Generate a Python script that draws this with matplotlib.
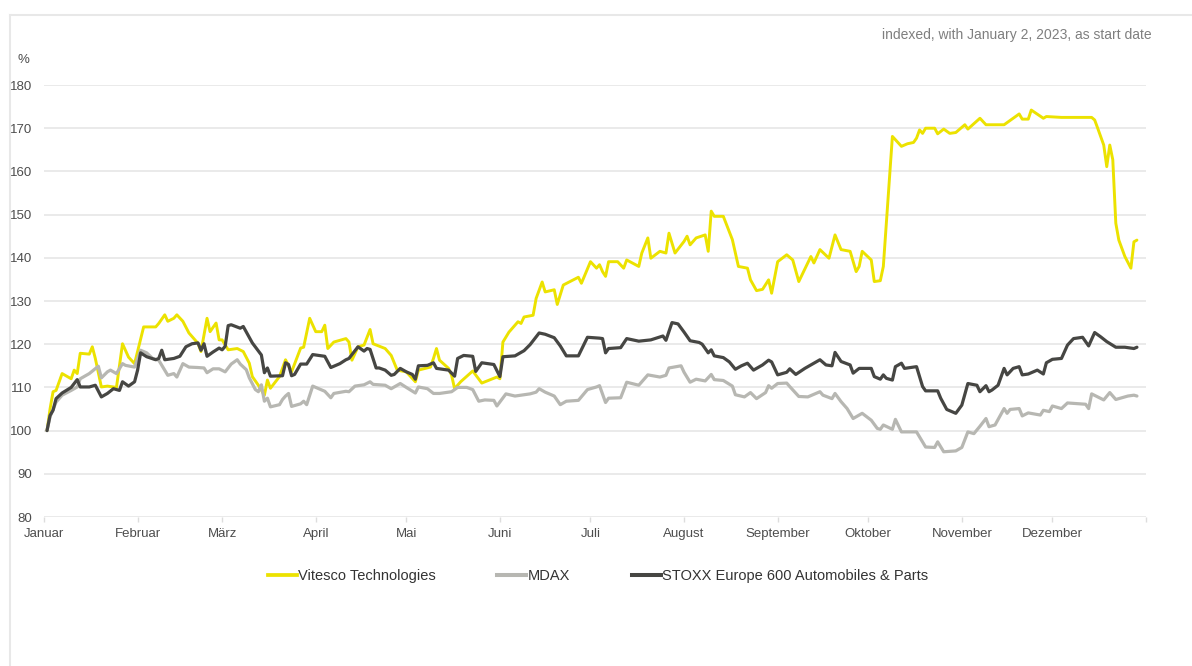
import matplotlib
matplotlib.use("Agg")
import matplotlib.pyplot as plt
import matplotlib.dates as mdates
import pandas as pd
from matplotlib.lines import Line2D

plt.rcParams['font.family'] = ['Liberation Sans', 'DejaVu Sans']

YEAR = "2023-"

month_labels = ["Januar", "Februar", "März", "April", "Mai", "Juni", "Juli",
                "August", "September", "Oktober", "November", "Dezember"]
y_ticks = [80, 90, 100, 110, 120, 130, 140, 150, 160, 170, 180]

series_names = ["Vitesco Technologies", "MDAX", "STOXX Europe 600 Automobiles & Parts"]

vitesco_dates = [
    "01-02", "01-03", "01-04", "01-05", "01-07", "01-10", "01-11", "01-12", "01-13", "01-16",
    "01-17", "01-18", "01-20", "01-22", "01-25", "01-27", "01-29", "01-31", "02-03", "02-07",
    "02-08", "02-10", "02-11", "02-13", "02-14", "02-16", "02-18", "02-21", "02-22", "02-24",
    "02-25", "02-27", "02-28", "03-01", "03-03", "03-06", "03-08", "03-10", "03-11", "03-13",
    "03-15", "03-16", "03-17", "03-20", "03-22", "03-24", "03-27", "03-28", "03-30", "04-01",
    "04-03", "04-04", "04-05", "04-07", "04-11", "04-12", "04-13", "04-15", "04-17", "04-19",
    "04-20", "04-24", "04-26", "04-28", "05-01", "05-04", "05-05", "05-09", "05-10", "05-11",
    "05-12", "05-15", "05-16", "05-17", "05-19", "05-23", "05-26", "05-31", "06-01", "06-02",
    "06-04", "06-07", "06-08", "06-09", "06-12", "06-13", "06-15", "06-16", "06-19", "06-20",
    "06-22", "06-27", "06-28", "07-01", "07-03", "07-04", "07-05", "07-06", "07-07", "07-10",
    "07-12", "07-13", "07-17", "07-18", "07-20", "07-21", "07-24", "07-26", "07-27", "07-29",
    "08-01", "08-02", "08-03", "08-05", "08-08", "08-09", "08-10", "08-11", "08-14", "08-17",
    "08-19", "08-22", "08-23", "08-25", "08-27", "08-29", "08-30", "09-01", "09-04", "09-06",
    "09-08", "09-12", "09-13", "09-15", "09-18", "09-20", "09-22", "09-25", "09-27", "09-28",
    "09-29", "10-02", "10-03", "10-05", "10-06", "10-09", "10-12", "10-14", "10-16", "10-17",
    "10-18", "10-19", "10-20", "10-23", "10-24", "10-26", "10-28", "10-30", "11-02", "11-03",
    "11-07", "11-09", "11-15", "11-16", "11-18", "11-20", "11-21", "11-23", "11-24", "11-28",
    "11-29", "12-04", "12-14", "12-15", "12-16", "12-18", "12-19", "12-20", "12-21", "12-22",
    "12-23", "12-25", "12-27", "12-28", "12-29",
]
vitesco_values = [
    100, 105, 109, 109.3, 113.2, 112, 114, 113.2, 117.9, 117.7,
    119.4, 116.7, 110.1, 110.3, 110, 120.1, 117, 115.5, 124, 124,
    124.8, 126.8, 125.3, 126, 126.8, 125.3, 122.6, 120.2, 118.3, 126,
    122.9, 124.9, 121, 121, 118.7, 119, 118.3, 115.6, 112.5, 110.5,
    108.2, 111.7, 109.8, 112.5, 116.4, 113.6, 119.1, 119.3, 126, 122.9,
    122.9, 124.4, 119, 120.5, 121.3, 120.5, 116.3, 119.4, 119.8, 123.4,
    120.1, 119, 117.4, 114, 113.6, 111.3, 114, 114.7, 116.7, 119,
    116.3, 114.4, 112.8, 109.7, 111.3, 113.8, 111, 112.4, 112, 120.5,
    122.8, 125.2, 124.8, 126.3, 126.7, 130.6, 134.4, 132.1, 132.6, 129.2,
    133.7, 135.5, 134.1, 139.1, 137.6, 138.4, 136.8, 135.7, 139.1, 139.1,
    137.6, 139.5, 138, 141.1, 144.6, 139.9, 141.5, 141.1, 145.7, 141.1,
    143.8, 145, 143, 144.6, 145.3, 141.5, 150.8, 149.6, 149.6, 144.2,
    138, 137.6, 134.9, 132.4, 132.7, 134.9, 131.8, 139.1, 140.7, 139.5,
    134.5, 140.3, 138.8, 141.9, 139.9, 145.3, 141.9, 141.5, 136.8, 138,
    141.5, 139.5, 134.5, 134.7, 138, 168.1, 165.8, 166.4, 166.7, 167.7,
    169.6, 168.8, 170, 170, 168.7, 169.8, 168.8, 169, 170.8, 169.8,
    172.3, 170.8, 170.8, 171.3, 172.3, 173.3, 172.1, 172.1, 174.2, 172.3,
    172.7, 172.5, 172.5, 171.9, 170, 166.1, 161.1, 166.1, 162.7, 148,
    144.1, 140.3, 137.6, 143.7, 144.1,
]

mdax_dates = [
    "01-02", "01-03", "01-05", "01-07", "01-10", "01-12", "01-13", "01-16", "01-19", "01-20",
    "01-22", "01-23", "01-25", "01-27", "01-28", "01-31", "02-02", "02-04", "02-06", "02-08",
    "02-11", "02-13", "02-14", "02-16", "02-18", "02-21", "02-23", "02-24", "02-26", "02-28",
    "03-02", "03-04", "03-06", "03-07", "03-09", "03-10", "03-12", "03-13", "03-14", "03-15",
    "03-16", "03-17", "03-20", "03-21", "03-22", "03-23", "03-24", "03-27", "03-28", "03-29",
    "03-31", "04-04", "04-06", "04-07", "04-11", "04-12", "04-14", "04-17", "04-19", "04-20",
    "04-24", "04-26", "04-29", "05-01", "05-04", "05-05", "05-08", "05-10", "05-12", "05-16",
    "05-18", "05-21", "05-23", "05-25", "05-27", "05-30", "05-31", "06-03", "06-06", "06-11",
    "06-13", "06-14", "06-16", "06-19", "06-21", "06-23", "06-27", "06-30", "07-03", "07-04",
    "07-06", "07-07", "07-11", "07-13", "07-17", "07-20", "07-24", "07-26", "07-27", "07-31",
    "08-01", "08-03", "08-05", "08-08", "08-10", "08-11", "08-14", "08-17", "08-18", "08-21",
    "08-23", "08-25", "08-28", "08-29", "08-30", "09-01", "09-04", "09-05", "09-08", "09-11",
    "09-15", "09-16", "09-19", "09-20", "09-22", "09-24", "09-26", "09-29", "10-02", "10-04",
    "10-05", "10-06", "10-09", "10-10", "10-12", "10-17", "10-20", "10-23", "10-24", "10-26",
    "10-30", "11-01", "11-03", "11-05", "11-07", "11-09", "11-10", "11-12", "11-15", "11-16",
    "11-17", "11-20", "11-21", "11-23", "11-27", "11-28", "11-30", "12-01", "12-04", "12-06",
    "12-12", "12-13", "12-14", "12-18", "12-20", "12-22", "12-26", "12-28", "12-29",
]
mdax_values = [
    100, 103.2, 106.6, 108.2, 109.3, 110.1, 112, 113.2, 114.9, 112.2,
    113.6, 114, 113.2, 115.5, 115.1, 114.7, 118.6, 118, 116.7, 116.3,
    112.8, 113.2, 112.4, 115.5, 114.7, 114.6, 114.5, 113.4, 114.3, 114.3,
    113.6, 115.4, 116.4, 115.4, 114.1, 112.2, 109.5, 109.0, 110.6, 106.8,
    107.5, 105.5, 106, 107.2, 108, 108.6, 105.6, 106.2, 106.8, 106,
    110.3, 109.1, 107.6, 108.6, 109.1, 109, 110.3, 110.6, 111.3, 110.7,
    110.5, 109.7, 110.9, 110, 108.7, 110.1, 109.7, 108.6, 108.6, 109,
    110, 110, 109.5, 106.8, 107.1, 107, 105.7, 108.5, 108, 108.5,
    108.9, 109.7, 108.9, 108, 106, 106.8, 107, 109.5, 110.1, 110.4,
    106.5, 107.5, 107.6, 111.2, 110.5, 112.9, 112.4, 112.8, 114.5, 115,
    113.5, 111.2, 111.9, 111.5, 113, 111.8, 111.6, 110.3, 108.3, 107.8,
    108.8, 107.4, 108.8, 110.4, 109.8, 110.9, 111, 110.2, 107.9, 107.8,
    109, 108.2, 107.4, 108.6, 106.7, 105.1, 102.8, 104, 102.4, 100.5,
    100.3, 101.3, 100.3, 102.6, 99.7, 99.7, 96.2, 96.1, 97.4, 95.1,
    95.3, 96.1, 99.7, 99.3, 101, 102.8, 100.9, 101.3, 105.1, 104,
    104.9, 105.1, 103.4, 104.1, 103.6, 104.7, 104.4, 105.7, 105.1, 106.4,
    106.1, 105.1, 108.5, 107.1, 108.8, 107.2, 108, 108.2, 108,
]

stoxx_dates = [
    "01-02", "01-03", "01-04", "01-05", "01-07", "01-10", "01-12", "01-13", "01-16", "01-18",
    "01-20", "01-22", "01-24", "01-26", "01-27", "01-29", "01-31", "02-01", "02-02", "02-04",
    "02-07", "02-08", "02-09", "02-10", "02-13", "02-15", "02-17", "02-19", "02-21", "02-22",
    "02-23", "02-24", "02-26", "02-28", "03-01", "03-02", "03-03", "03-04", "03-07", "03-08",
    "03-11", "03-14", "03-15", "03-16", "03-17", "03-21", "03-22", "03-23", "03-24", "03-25",
    "03-27", "03-29", "03-31", "04-04", "04-06", "04-09", "04-11", "04-12", "04-13", "04-15",
    "04-17", "04-18", "04-19", "04-21", "04-22", "04-24", "04-26", "04-27", "04-29", "05-01",
    "05-03", "05-04", "05-05", "05-08", "05-10", "05-11", "05-14", "05-15", "05-17", "05-18",
    "05-20", "05-23", "05-24", "05-26", "05-30", "06-01", "06-02", "06-06", "06-09", "06-11",
    "06-14", "06-16", "06-19", "06-21", "06-23", "06-27", "06-30", "07-04", "07-05", "07-06",
    "07-07", "07-11", "07-13", "07-17", "07-21", "07-25", "07-26", "07-28", "07-30", "08-01",
    "08-03", "08-06", "08-07", "08-09", "08-10", "08-11", "08-14", "08-16", "08-18", "08-20",
    "08-22", "08-24", "08-27", "08-29", "08-30", "09-01", "09-04", "09-05", "09-07", "09-10",
    "09-13", "09-15", "09-17", "09-19", "09-20", "09-22", "09-25", "09-26", "09-28", "10-02",
    "10-03", "10-05", "10-06", "10-07", "10-09", "10-10", "10-12", "10-13", "10-17", "10-19",
    "10-20", "10-24", "10-25", "10-27", "10-30", "11-01", "11-03", "11-06", "11-07", "11-09",
    "11-10", "11-11", "11-13", "11-15", "11-16", "11-18", "11-20", "11-21", "11-23", "11-26",
    "11-28", "11-29", "12-01", "12-04", "12-06", "12-08", "12-11", "12-13", "12-15", "12-17",
    "12-19", "12-22", "12-25", "12-28", "12-29",
]
stoxx_values = [
    100, 103.5, 104.7, 107.4, 108.7, 110, 111.8, 110.1, 110.1, 110.5,
    107.8, 108.6, 109.7, 109.3, 111.3, 110.3, 111.3, 114, 118, 117.1,
    116.4, 116.7, 118.6, 116.4, 116.7, 117.2, 119.4, 120.1, 120.3, 118.6,
    120.1, 117.2, 118.2, 119.1, 118.7, 119.5, 124.3, 124.5, 123.7, 124.1,
    120.3, 117.5, 113.4, 114.5, 112.6, 112.7, 115.7, 115.3, 112.7, 113,
    115.4, 115.4, 117.6, 117.2, 114.6, 115.5, 116.4, 116.7, 117.6, 119.4,
    118.4, 119, 118.8, 114.5, 114.5, 114, 112.8, 113, 114.4, 113.6,
    113, 111.9, 115, 115.1, 115.7, 114.4, 114.1, 114, 112.6, 116.7,
    117.4, 117.2, 113.7, 115.7, 115.3, 112.5, 117.1, 117.3, 118.5, 119.9,
    122.6, 122.3, 121.5, 119.6, 117.3, 117.3, 121.6, 121.4, 121.3, 118,
    119, 119.2, 121.3, 120.7, 121, 121.9, 120.9, 125, 124.7, 122.8,
    120.8, 120.4, 120, 118, 118.7, 117.3, 116.9, 115.9, 114.2, 115,
    115.6, 114, 115.2, 116.3, 115.9, 112.9, 113.5, 114.3, 113, 114.4,
    115.6, 116.4, 115.2, 115, 118.1, 116, 115.2, 113.3, 114.4, 114.4,
    112.5, 111.9, 112.9, 112.1, 111.7, 114.8, 115.6, 114.4, 114.8, 110.2,
    109.2, 109.2, 107.5, 104.9, 104, 105.9, 110.9, 110.5, 109, 110.4,
    109, 109.4, 110.5, 114.4, 112.9, 114.4, 114.8, 112.9, 113.1, 114,
    113.1, 115.7, 116.5, 116.7, 119.8, 121.3, 121.6, 119.6, 122.7, 121.7,
    120.6, 119.3, 119.3, 119, 119.3,
]

colors = ["#ece200", "#b7b7b2", "#464643"]
widths = [2.1, 2.3, 2.3]

W, H = 1192, 666
fig = plt.figure(figsize=(W / 100, H / 100), dpi=100)
ax = fig.add_axes([44 / W, (H - 517) / H, (1146 - 44) / W, (517 - 85) / H])

all_dates = [vitesco_dates, mdax_dates, stoxx_dates]
all_values = [vitesco_values, mdax_values, stoxx_values]
handles = []
order = [1, 2, 0]
for i in order:
    d = pd.to_datetime([YEAR + s for s in all_dates[i]])
    ax.plot(d, all_values[i], color=colors[i], lw=widths[i],
            solid_joinstyle="round", solid_capstyle="round",
            label=series_names[i], zorder=3 + i)
for i in range(3):
    handles.append(Line2D([0], [0], color=colors[i], lw=widths[i] + 0.6))

ax.set_xlim(pd.Timestamp("2023-01-01"), pd.Timestamp("2024-01-01"))
ax.set_ylim(y_ticks[0], y_ticks[-1])
ax.set_yticks(y_ticks)
ax.set_yticklabels([str(v) for v in y_ticks])
month_starts = pd.date_range("2023-01-01", periods=12, freq="MS")
ax.set_xticks(list(month_starts) + [pd.Timestamp("2024-01-01")])
ax.set_xticklabels(month_labels + [""])

for sp in ax.spines.values():
    sp.set_visible(False)
ax.grid(axis="y", color="#e6e6e6", lw=1.2, zorder=0)
ax.set_axisbelow(True)
ax.tick_params(axis="y", length=0, pad=8.5, labelsize=9.5, labelcolor="#4d4d4d")
ax.tick_params(axis="x", length=3.5, width=1, color="#dddddd", pad=4.5,
               labelsize=9.5, labelcolor="#4d4d4d")

fig.text(17 / W, 1 - 60 / H, "%", fontsize=9.5, color="#4d4d4d", va="center", ha="left")
fig.text(1152 / W, 1 - 35 / H, "indexed, with January 2, 2023, as start date",
         fontsize=10, color="#7f7f7f", va="center", ha="right")

fig.legend(handles, series_names, loc="center", bbox_to_anchor=(598 / W, 1 - 576 / H),
           ncol=3, frameon=False, fontsize=10.5, handlelength=2.0, handletextpad=0.1,
           columnspacing=4.2, labelcolor="#333333")

fig.add_artist(Line2D([10 / W, 1.0], [1 - 15 / H, 1 - 15 / H], color="#e8e8e8", lw=1.5,
                      transform=fig.transFigure))
fig.add_artist(Line2D([10 / W, 10 / W], [0, 1 - 15 / H], color="#e8e8e8", lw=1.5,
                      transform=fig.transFigure))

fig.savefig("out.png", dpi=100)
